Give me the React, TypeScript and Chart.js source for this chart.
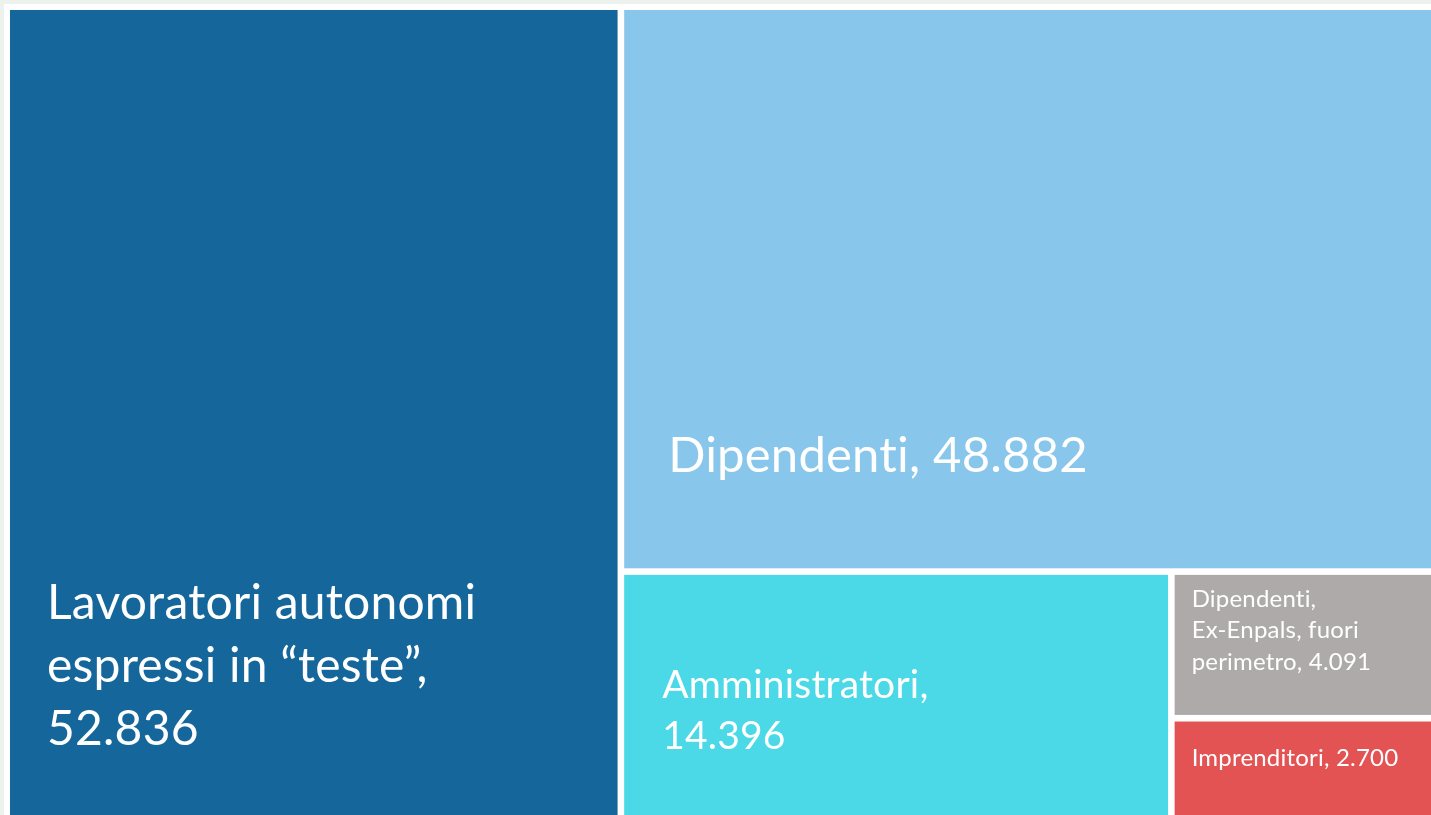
import React, { useEffect, useRef } from "react";
import { Chart, registerables } from "chart.js";

Chart.register(...registerables);

const categories = [
  "Lavoratori autonomi espressi in “teste”",
  "Dipendenti",
  "Amministratori",
  "Dipendenti, Ex-Enpals, fuori perimetro",
  "Imprenditori",
];
const values = [52836, 48882, 14396, 4091, 2700];
const valueLabels = ["52.836", "48.882", "14.396", "4.091", "2.700"];
const labelLines = [
  ["Lavoratori autonomi", "espressi in “teste”,", "52.836"],
  ["Dipendenti, 48.882"],
  ["Amministratori,", "14.396"],
  ["Dipendenti,", "Ex-Enpals, fuori", "perimetro, 4.091"],
  ["Imprenditori, 2.700"],
];
const colors = ["#15679b", "#88c7eb", "#4bd9e7", "#aeaaa9", "#e45353"];

// label style: font size, line height, offset from tile's left/top (px)
const labelStyle = [
  { size: 48, lh: 63, dx: 37, dy: 609 },
  { size: 49, lh: 60, dx: 44, dy: 462 },
  { size: 39, lh: 51, dx: 38, dy: 123 },
  { size: 24, lh: 31.5, dx: 17, dy: 32 },
  { size: 24, lh: 31, dx: 17, dy: 44 },
];

type Rect = { x0: number; x1: number; y0: number; y1: number };

function layout(vals: number[]): Rect[] {
  const out: Rect[] = [];
  let r: Rect = { x0: 0, x1: 1, y0: 0, y1: 1 };
  for (let i = 0; i < vals.length; i++) {
    if (i === vals.length - 1) {
      out.push({ ...r });
      break;
    }
    const rest = vals.slice(i).reduce((a, b) => a + b, 0);
    const f = vals[i] / rest;
    if (i % 2 === 0) {
      const xm = r.x0 + (r.x1 - r.x0) * f;
      out.push({ x0: r.x0, x1: xm, y0: r.y0, y1: r.y1 });
      r = { ...r, x0: xm };
    } else {
      const ym = r.y0 + (r.y1 - r.y0) * f;
      out.push({ x0: r.x0, x1: r.x1, y0: r.y0, y1: ym });
      r = { ...r, y0: ym };
    }
  }
  return out;
}

const FONT = "Lato, 'Open Sans', sans-serif";

const treemapPlugin = {
  id: "treemapDraw",
  beforeDraw(chart: any) {
    const { ctx, width, height } = chart;
    ctx.save();
    ctx.fillStyle = "#eef2ef";
    ctx.fillRect(0, 0, width, height);
    ctx.fillStyle = "#ffffff";
    ctx.fillRect(4, 4, width - 4, height - 4);
    ctx.restore();
  },
  afterDatasetsDraw(chart: any) {
    const { ctx } = chart;
    const xs = chart.scales.x;
    const ys = chart.scales.y;
    const rects = layout(values);
    const gap = 3.3;
    ctx.save();
    rects.forEach((r, i) => {
      let L = xs.getPixelForValue(r.x0);
      let R = xs.getPixelForValue(r.x1);
      let T = ys.getPixelForValue(r.y0);
      let B = ys.getPixelForValue(r.y1);
      if (r.x0 > 0) L += gap;
      if (r.x1 < 1) R -= gap;
      if (r.y0 > 0) T += gap;
      if (r.y1 < 1) B -= gap;
      ctx.fillStyle = colors[i];
      ctx.fillRect(L, T, R - L, B - T);
      const st = labelStyle[i];
      ctx.fillStyle = "#ffffff";
      ctx.font = `${st.size}px ${FONT}`;
      try {
        (ctx as any).letterSpacing = "0.2px";
      } catch (e) {}
      ctx.textBaseline = "alphabetic";
      ctx.textAlign = "left";
      labelLines[i].forEach((line, k) => {
        ctx.fillText(line, L + st.dx, T + st.dy + k * st.lh);
      });
    });
    ctx.restore();
  },
};

export default function App() {
  const ref = useRef<HTMLCanvasElement | null>(null);
  useEffect(() => {
    document.body.style.margin = "0";
    const canvas = ref.current;
    if (!canvas) return;
    const chart = new Chart(canvas, {
      type: "scatter",
      data: {
        labels: categories,
        datasets: [
          {
            label: "Valori",
            data: values.map((v, i) => ({ x: 0, y: 0, v, name: categories[i], lbl: valueLabels[i] })),
            pointRadius: 0,
            pointHoverRadius: 0,
          },
        ],
      },
      options: {
        animation: false,
        responsive: false,
        maintainAspectRatio: false,
        events: [],
        layout: { padding: { left: 10, top: 10, right: 0, bottom: 0 } },
        plugins: { legend: { display: false }, tooltip: { enabled: false }, title: { display: false } },
        scales: {
          x: { type: "linear", min: 0, max: 1, display: false },
          y: { type: "linear", min: 0, max: 1, reverse: true, display: false },
        },
      },
      plugins: [treemapPlugin],
    });
    return () => chart.destroy();
  }, []);
  return (
    <div style={{ width: 1431, height: 815, position: "relative" }}>
      <canvas ref={ref} width={1431} height={815} style={{ display: "block" }} />
    </div>
  );
}
